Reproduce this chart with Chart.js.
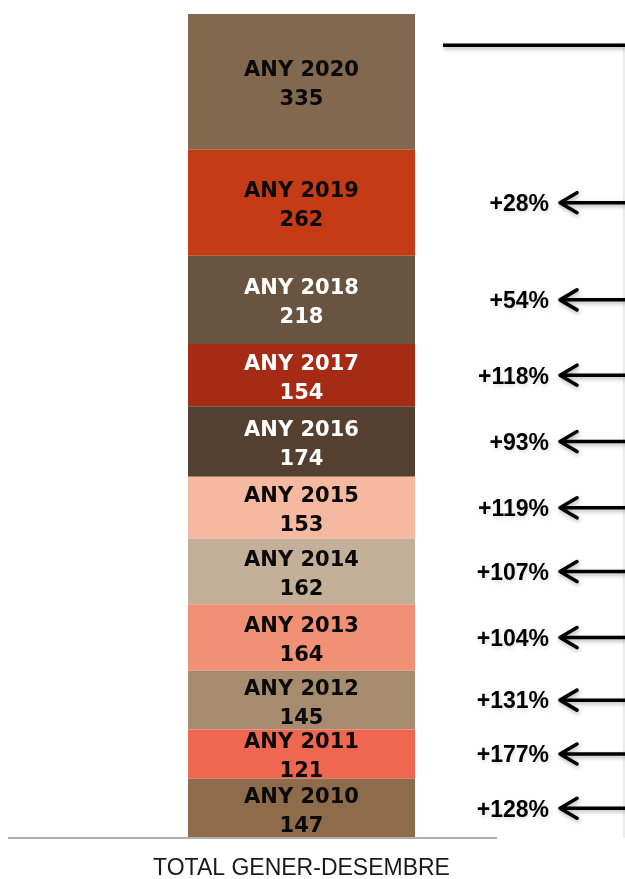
<!DOCTYPE html>
<html>
<head>
<meta charset="utf-8">
<script src="https://cdn.jsdelivr.net/npm/chart.js@4.4.0/dist/chart.umd.min.js"></script>
<style>
  html, body { margin: 0; padding: 0; background: #fff; }
  #wrap { position: relative; width: 625px; height: 879px; }
</style>
</head>
<body>
<div id="wrap"><canvas id="totalChart"></canvas></div>
<script>
// dades (de baix a dalt)
var categories = ['TOTAL GENER-DESEMBRE'];
var anys = ['ANY 2010', 'ANY 2011', 'ANY 2012', 'ANY 2013', 'ANY 2014', 'ANY 2015',
            'ANY 2016', 'ANY 2017', 'ANY 2018', 'ANY 2019', 'ANY 2020'];
var valors = [147, 121, 145, 164, 162, 153, 174, 154, 218, 262, 335];
var creixement = ['+128%', '+177%', '+131%', '+104%', '+107%', '+119%',
                  '+93%', '+118%', '+54%', '+28%', null];

var colors = ['#8E6C4B', '#EF6750', '#A78B6E', '#F29075', '#C4AF99', '#F5B8A0',
              '#553F2E', '#A62B14', '#685441', '#C43B15', '#836850'];
var colorsText = ['#0a0a0a', '#0a0a0a', '#0a0a0a', '#0a0a0a', '#0a0a0a', '#0a0a0a',
                  '#fff', '#fff', '#fff', '#0a0a0a', '#0a0a0a'];

var total = valors.reduce(function(a, b) { return a + b; }, 0);

///////////////////////////////////////////////////////////////////////////
// etiquetes, fletxes i linia de l'eix
///////////////////////////////////////////////////////////////////////////
var etiquetesPlugin = {
    id: 'etiquetes',
    afterDatasetsDraw: function(chart) {
        var ctx = chart.ctx;
        var area = chart.chartArea;
        var y0 = chart.scales.y.getPixelForValue(0);
        var primera = chart.getDatasetMeta(0).data[0];
        var ample = chart.width;

        ctx.save();

        // linia de l'eix
        ctx.strokeStyle = '#b0b0b0';
        ctx.lineWidth = 2;
        ctx.beginPath();
        ctx.moveTo(area.left, y0);
        ctx.lineTo(primera.x + primera.width / 2 + 82, y0);
        ctx.stroke();

        // text dins de cada tram
        ctx.textAlign = 'center';
        ctx.textBaseline = 'middle';
        ctx.font = 'bold 21px "DejaVu Sans"';
        chart.data.datasets.forEach(function(ds, i) {
            var bar = chart.getDatasetMeta(i).data[0];
            var cy = (bar.y + bar.base) / 2;
            ctx.fillStyle = colorsText[i];
            ctx.fillText(anys[i], bar.x, cy - 11);
            ctx.fillText(String(valors[i]), bar.x, cy + 18);
        });

        // linia de dalt (2020)
        var ultim = chart.getDatasetMeta(valors.length - 1).data[0];
        var yTop = ultim.y + (ultim.base - ultim.y) * 0.23;

        // linia vertical clara
        ctx.strokeStyle = '#e6e6e6';
        ctx.lineWidth = 1.5;
        ctx.beginPath();
        ctx.moveTo(ample - 1, yTop);
        ctx.lineTo(ample - 1, y0);
        ctx.stroke();

        ctx.shadowColor = 'rgba(0,0,0,0.3)';
        ctx.shadowBlur = 4;
        ctx.shadowOffsetX = 1;
        ctx.shadowOffsetY = 2;
        ctx.strokeStyle = '#000';
        ctx.lineWidth = 3.5;
        ctx.beginPath();
        ctx.moveTo(ultim.x + ultim.width / 2 + 28, yTop);
        ctx.lineTo(ample, yTop);
        ctx.stroke();

        // fletxes amb el creixement
        var puntaX = ample - 65;
        creixement.forEach(function(txt, i) {
            if (!txt) return;
            var bar = chart.getDatasetMeta(i).data[0];
            var cy = (bar.y + bar.base) / 2;
            ctx.shadowColor = 'rgba(0,0,0,0.3)';
            ctx.strokeStyle = '#000';
            ctx.lineWidth = 3.5;
            ctx.lineCap = 'round';
            ctx.lineJoin = 'round';
            ctx.beginPath();
            ctx.moveTo(ample, cy);
            ctx.lineTo(puntaX, cy);
            ctx.moveTo(puntaX + 17, cy - 10);
            ctx.lineTo(puntaX, cy);
            ctx.lineTo(puntaX + 17, cy + 10);
            ctx.stroke();

            ctx.shadowColor = 'rgba(0,0,0,0.15)';
            ctx.fillStyle = '#000';
            ctx.font = 'bold 23px "Liberation Sans"';
            ctx.textAlign = 'right';
            ctx.fillText(txt, puntaX - 11, cy + 2);
        });

        ctx.restore();
    }
};

var datasets = valors.map(function(v, i) {
    return {
        label: anys[i],
        data: [v],
        backgroundColor: colors[i],
        borderWidth: 0,
        categoryPercentage: 1,
        barPercentage: 0.3867
    };
});

var ctx = document.getElementById('totalChart').getContext('2d');
var chart = new Chart(ctx, {
    type: 'bar',
    data: {
        labels: categories,
        datasets: datasets
    },
    options: {
        responsive: true,
        maintainAspectRatio: false,
        animation: false,
        layout: { padding: { left: 8, right: 30, top: 14, bottom: 0 } },
        plugins: {
            legend: { display: false },
            tooltip: { enabled: false }
        },
        scales: {
            x: {
                stacked: true,
                grid: { display: false, drawTicks: false },
                border: { display: false },
                ticks: {
                    color: '#1a1a1a',
                    padding: 19,
                    font: { family: '"Liberation Sans"', size: 23, lineHeight: 1 }
                },
                afterFit: function(scale) { scale.height = 41; }
            },
            y: {
                stacked: true,
                display: false,
                min: 0,
                max: total
            }
        }
    },
    plugins: [etiquetesPlugin]
});
</script>
</body>
</html>
